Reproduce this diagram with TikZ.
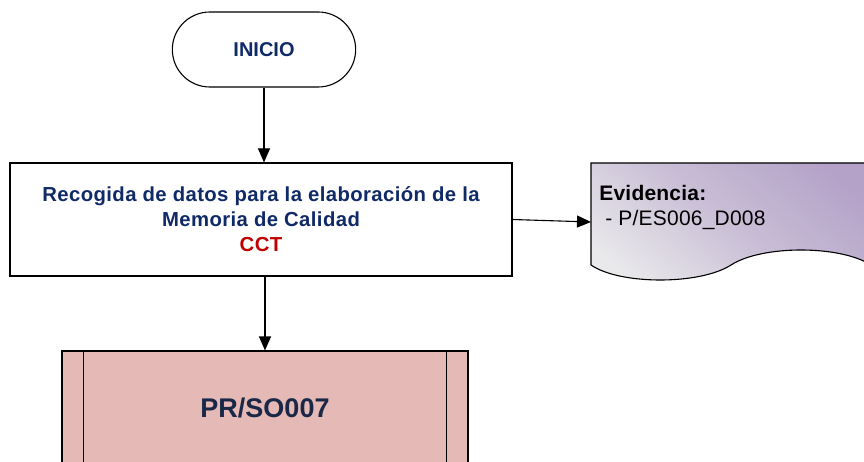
\documentclass[tikz,border=0pt]{standalone}
\usepackage{fontspec}
\setmainfont{Liberation Sans}
\usetikzlibrary{shapes.misc,arrows.meta,positioning}
\definecolor{azulTxt}{RGB}{16,42,104}
\definecolor{azulOsc}{RGB}{26,40,72}
\definecolor{rojoTxt}{RGB}{192,0,0}
\definecolor{rosaSub}{RGB}{229,185,181}
\definecolor{lilaDoc}{RGB}{180,162,200}
\definecolor{grisDoc}{RGB}{233,233,235}
\pgfdeclarehorizontalshading{docshade}{100bp}{color(0bp)=(grisDoc); color(22bp)=(grisDoc);
	color(50bp)=(lilaDoc!62!grisDoc); color(76bp)=(lilaDoc); color(100bp)=(lilaDoc)}

\begin{document}
\begin{tikzpicture}[x=1pt,y=-1pt,line width=1.1pt,
		>={Triangle[length=14pt,width=12pt]},
		inicio/.style={rounded rectangle,draw,fill=white,minimum width=190pt,minimum height=75pt,
			font=\fontsize{20}{24}\selectfont\bfseries,text=azulTxt},
		proceso/.style={rectangle,draw,fill=white,minimum width=502pt,minimum height=113pt,align=center,
			font=\fontsize{20.3}{25}\selectfont\bfseries\addfontfeature{LetterSpace=2},text=azulTxt},
		subproc/.style={rectangle,draw,fill=rosaSub,minimum width=406pt,minimum height=114pt,
			font=\fontsize{27}{32}\selectfont\bfseries,text=azulOsc}]
			
			\useasboundingbox (0,0) rectangle (864,462);
			\clip (0,0) rectangle (864,462);
			
			% documento de evidencia
			\path[draw,shading=docshade,shading angle=50]
				(591,265) -- (591,163) -- (880,163) -- (880,265) -- (871,265)
				.. controls (840,245) and (762,245) .. (731,265)
				.. controls (700,285) and (620,285) .. (591,265) -- cycle;
			\node[anchor=west,align=left,font=\fontsize{21}{25}\selectfont\addfontfeature{LetterSpace=1}] (evid) at (595.5,207)
				{\textbf{Evidencia:}\\ \ - P/ES006\_D008};
			\coordinate (docin) at (591,222);
			
			\node[inicio] (ini) at (264,49.5) {INICIO};
			\node[proceso] (recog) at (261,219.5)
				{Recogida de datos para la elaboración de la\\ Memoria de Calidad\\ \textcolor{rojoTxt}{CCT}};
			\node[subproc] (prso) at (265,408) {PR/SO007};
			\draw ([xshift=22pt]prso.north west) -- ([xshift=22pt]prso.south west);
			\draw ([xshift=-22pt]prso.north east) -- ([xshift=-22pt]prso.south east);
			
			\draw[->] (ini.south) -- (ini.south |- recog.north);
			\draw[->] (prso.north |- recog.south) -- (prso.north);
			\draw[->] (recog.east) -- (docin);
		\end{tikzpicture}
\end{document}
